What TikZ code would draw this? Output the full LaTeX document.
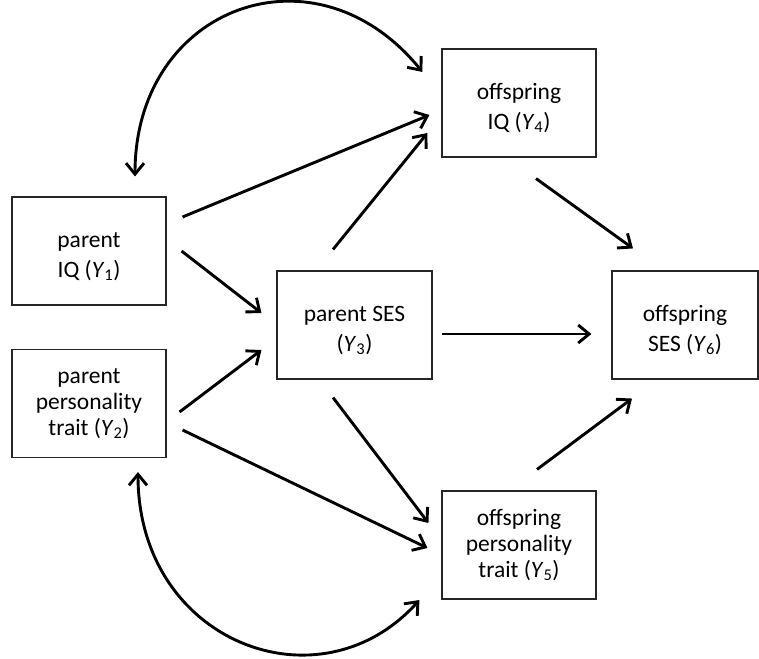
\documentclass[tikz,border=0pt]{standalone}
\usepackage{fontspec}
\setmainfont{Carlito}
\usepackage{tikz}
\usetikzlibrary{arrows.meta}
\definecolor{ink}{HTML}{000000}
\definecolor{frame}{HTML}{262626}
\newcommand{\yvar}[1]{\textit{Y}\textsubscript{#1}}
\newcommand{\tallline}{\rule{0pt}{26pt}}
\tikzset{
  var/.style={rectangle,draw=frame,line width=1.1pt,minimum width=154pt,
    minimum height=108pt,inner sep=0pt,align=center,
    font=\fontsize{23.5}{26}\selectfont},
  arrow/.style={-{Straight Barb[length=11pt,width=18pt]},line width=2.9pt,draw=ink},
  corr/.style={{Straight Barb[length=11pt,width=18pt]}-{Straight Barb[length=11pt,width=18pt]},
    line width=2.9pt,draw=ink}
}
\begin{document}
\begin{tikzpicture}[x=1pt,y=1pt]
\useasboundingbox (0,0) rectangle (759,658);
\node[var] (y1) at (89,407) {\tallline parent\\[4pt]IQ (\yvar{1})};
\node[var] (y2) at (89,254.5) {parent\\personality\\trait (\yvar{2})};
\node[var,minimum width=155pt] (y3) at (354.5,333) {\tallline parent SES\\[4pt](\yvar{3})};
\node[var] (y4) at (519,555) {\tallline offspring\\[4pt]IQ (\yvar{4})};
\node[var] (y5) at (519,113) {offspring\\personality\\trait (\yvar{5})};
\node[var,minimum width=146pt] (y6) at (685,333) {\tallline offspring\\[4pt]SES (\yvar{6})};

\draw[arrow] ([shift={(16,34)}]y1.east) -- ([shift={(-12,-12)}]y4.west);
\draw[arrow] ([shift={(15,0)}]y1.east) -- ([shift={(-15,12)}]y3.west);
\draw[arrow] ([shift={(13,-8.5)}]y2.east) -- ([shift={(-15,-25)}]y3.west);
\draw[arrow] ([shift={(16,-26.5)}]y2.east) -- ([shift={(-14,-3)}]y5.west);
\draw[arrow] ([shift={(-21.5,21)}]y3.north) -- ([shift={(-14,-30)}]y4.west);
\draw[arrow] ([shift={(-21.5,-18)}]y3.south) -- ([shift={(-13,22)}]y5.west);
\draw[arrow] ([shift={(9,-9)}]y3.east) -- ([shift={(-20,-9)}]y6.west);
\draw[arrow] ([shift={(17,-21)}]y4.south) -- ([shift={(-52,22)}]y6.north);
\draw[arrow] ([shift={(18,21)}]y5.north) -- ([shift={(-53,-19)}]y6.south);

% correlated residuals
\draw[corr] ([shift={(46,20)}]y1.north) to[out=90,in=129,out distance=170pt,in distance=170pt] ([shift={(-19,31)}]y4.west);
\draw[corr] ([shift={(49,-14)}]y2.south) to[out=-90,in=-132,out distance=170pt,in distance=150pt] ([shift={(-22,-55)}]y5.west);
\end{tikzpicture}
\end{document}
